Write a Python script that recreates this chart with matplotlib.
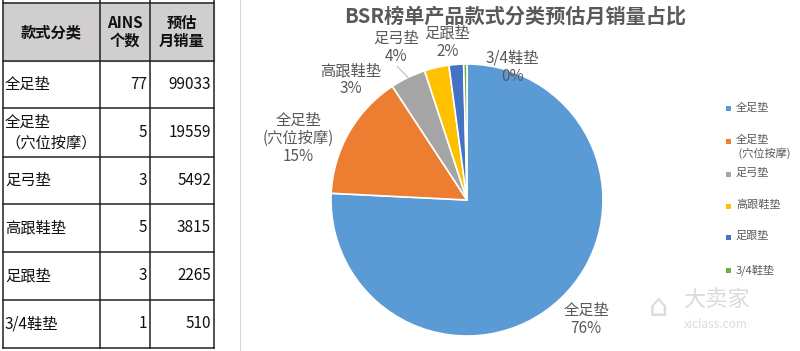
import numpy as np
import matplotlib
matplotlib.use('Agg')
import matplotlib.pyplot as plt
from matplotlib.patches import Rectangle

plt.rcParams['font.family'] = ['Noto Sans CJK SC', 'DejaVu Sans']

# data
categories = ['全足垫', '全足垫\n（穴位按摩）', '足弓垫', '高跟鞋垫', '足跟垫', '3/4鞋垫']
ains_count = [77, 5, 3, 5, 3, 1]
monthly_sales = [99033, 19559, 5492, 3815, 2265, 510]
header = ['款式分类', 'AINS\n个数', '预估\n月销量']
pie_labels = ['全足垫', '全足垫\n(穴位按摩)', '足弓垫', '高跟鞋垫', '足跟垫', '3/4鞋垫']
legend_labels = ['全足垫', '全足垫\n (穴位按摩)', '足弓垫', '高跟鞋垫', '足跟垫', '3/4鞋垫']
title = 'BSR榜单产品款式分类预估月销量占比'

colors = ['#5B9BD5', '#ED7D31', '#A5A5A5', '#FFC000', '#4472C4', '#70AD47']
text_gray = '#595959'

W, H = 800, 351
fig = plt.figure(figsize=(W / 100, H / 100), dpi=100)

# ---- table (pixel coordinates) ----
tab = fig.add_axes([0, 0, 1, 1])
tab.set_xlim(0, W)
tab.set_ylim(H, 0)
tab.axis('off')

row_edges = [3, 61, 108, 157, 204, 252, 300, 348]
col_edges = [3, 100, 150, 214]

tab.axvline(240, color='#d9d9d9', lw=0.8)
tab.fill_between([col_edges[0], col_edges[-1]], row_edges[0], row_edges[1],
                 color='#D0CECE', zorder=1)
for y in row_edges:
    tab.plot([col_edges[0], col_edges[-1]], [y, y], color='#222222', lw=1.1, zorder=2)
for x in col_edges:
    tab.plot([x, x], [0, row_edges[-1]], color='#222222', lw=1.1, zorder=2)

hy = (row_edges[0] + row_edges[1]) / 2
for i, h in enumerate(header):
    cx = (col_edges[i] + col_edges[i + 1]) / 2
    tab.text(cx, hy, h, ha='center', va='center', fontsize=11, fontweight='bold',
             color='#111111', linespacing=1.15, zorder=3)

for r, (cat, n, s) in enumerate(zip(categories, ains_count, monthly_sales)):
    cy = (row_edges[r + 1] + row_edges[r + 2]) / 2
    tab.text(col_edges[0] + 2, cy, cat, ha='left', va='center', fontsize=11,
             color='#111111', linespacing=1.25, zorder=3)
    tab.text(col_edges[2] - 3, cy, str(n), ha='right', va='center', fontsize=11,
             color='#111111', zorder=3)
    tab.text(col_edges[3] - 3, cy, str(s), ha='right', va='center', fontsize=11,
             color='#111111', zorder=3)

# title
tab.text(515, 16, title, ha='center', va='center', fontsize=14.5, fontweight='bold',
         color=text_gray, zorder=3)

# watermark
tab.text(716, 299, '大卖家', ha='center', va='center', fontsize=16, color='#dcdcdc', zorder=0)
tab.text(716, 324, 'xiclass.com', ha='center', va='center', fontsize=8.5, color='#dcdcdc', zorder=0)
tab.text(659, 308, '⌂', ha='center', va='center', fontsize=22, color='#dcdcdc', zorder=0)

# ---- manual legend ----
legend_y = [108, 141, 174, 206, 237, 270]
for lab, col, y in zip(legend_labels, colors, legend_y):
    tab.add_patch(Rectangle((726, y - 2.5), 5, 5, facecolor=col, edgecolor='none', zorder=3))
    tab.text(736, y - 6, lab, ha='left', va='top', fontsize=8, color=text_gray,
             linespacing=1.2, zorder=3)

# ---- pie ----
cx, cy, rad = 467, 200, 136
pax = fig.add_axes([(cx - rad) / W, (H - cy - rad) / H, 2 * rad / W, 2 * rad / H])
wedges, _ = pax.pie(monthly_sales, colors=colors, startangle=90, counterclock=False,
                    radius=1, wedgeprops=dict(edgecolor='white', linewidth=1.2))
pax.set_xlim(-1, 1)
pax.set_ylim(-1, 1)
pax.axis('off')

total = sum(monthly_sales)
pcts = [f'{round(v / total * 100):.0f}%' for v in monthly_sales]

# label placement (radius, angle in degrees)
label_pos = [(1.24, -45), (1.32, 160), (1.24, 115), (1.23, 134), (1.17, 97), (1.03, 71)]
for lab, pct, (r, a) in zip(pie_labels, pcts, label_pos):
    t = np.deg2rad(a)
    pax.text(r * np.cos(t), r * np.sin(t), f'{lab}\n{pct}', ha='center', va='center',
             fontsize=11, color=text_gray, linespacing=1.1, clip_on=False)

# leader line for 足弓垫
w = wedges[2]
mid = np.deg2rad((w.theta1 + w.theta2) / 2)
pax.plot([1.0 * np.cos(mid), 1.09 * np.cos(mid) - 0.04], [1.0 * np.sin(mid), 1.09 * np.sin(mid)],
         color='#bfbfbf', lw=0.8, clip_on=False)

fig.savefig('out.png', dpi=100)
